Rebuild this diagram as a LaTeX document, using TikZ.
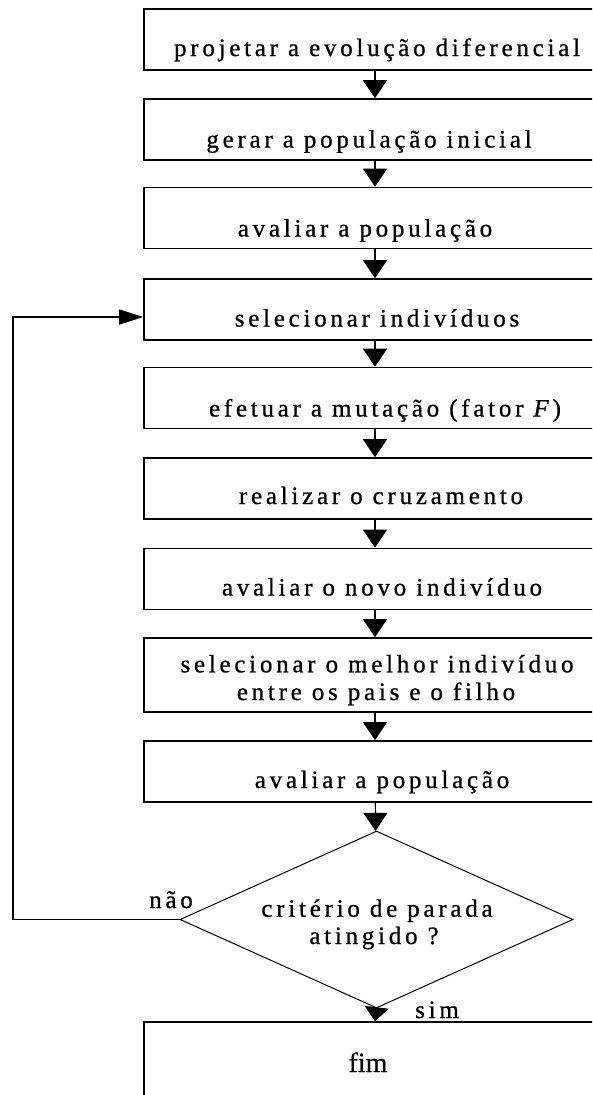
\documentclass[tikz,border=0pt]{standalone}
\usepackage{fontspec}
\setmainfont{Liberation Serif}[FakeBold=0.6]
\newfontfamily\spaced{Liberation Serif}[LetterSpace=15,FakeBold=0.8]
\usetikzlibrary{arrows.meta,shapes.geometric}
\begin{document}
\begin{tikzpicture}[x=1pt,y=-1pt,
  stepbox/.style={draw,line width=1.6pt,minimum width=462pt,minimum height=61pt,inner sep=0pt},
  txt/.style={font=\spaced\fontsize{25}{30}\selectfont,anchor=base,inner sep=0pt},
  flow/.style={line width=1.2pt,-{Triangle[width=24pt,length=18pt]}},
]
\useasboundingbox (0,0) rectangle (592,1095);
\clip (0,0) rectangle (592,1095);

\node[stepbox] (b1) at (375,39.5) {};
\node[stepbox] (b2) at (375,129.5) {};
\node[stepbox] (b3) at (375,218) {};
\node[stepbox] (b4) at (375,309.5) {};
\node[stepbox] (b5) at (375,398) {};
\node[stepbox] (b6) at (375,488.5) {};
\node[stepbox] (b7) at (375,579) {};
\node[stepbox,minimum height=74pt] (b8) at (375,675) {};
\node[stepbox] (b9) at (375,771.5) {};
\node[draw,diamond,line width=1pt,minimum width=393pt,minimum height=177pt,inner sep=0pt] (d) at (376.5,919.5) {};
\node[stepbox,minimum height=120pt] (fim) at (375,1082) {};

\node[txt] (t1) at (377,56) {projetar a evolução diferencial};
\node[txt] (t2) at (369,147.5) {gerar a população inicial};
\node[txt] (t3) at (365,236.5) {avaliar a população};
\node[txt] (t4) at (377,326.5) {selecionar indivíduos};
\node[txt] (t5) at (385,416.5) {efetuar a mutação (fator \textit{F})};
\node[txt] (t6) at (381,504) {realizar o cruzamento};
\node[txt] (t7) at (382,595.5) {avaliar o novo indivíduo};
\node[txt] (t8a) at (377,672.3) {selecionar o melhor indivíduo};
\node[txt] (t8b) at (376,700) {entre os pais e o filho};
\node[txt] (t9) at (382,788) {avaliar a população};
\node[txt] (td1) at (377,916.7) {critério de parada};
\node[txt] (td2) at (374,944) {atingido ?};
\node[font=\fontsize{28}{34}\selectfont,anchor=base,inner sep=0pt] (tf) at (368,1072) {fim};
\node[txt] (nao) at (171,908) {não};
\node[txt] (sim) at (437,1018) {sim};

\draw[flow] (b1) -- (b2);
\draw[flow] (b2) -- (b3);
\draw[flow] (b3) -- (b4);
\draw[flow] (b4) -- (b5);
\draw[flow] (b5) -- (b6);
\draw[flow] (b6) -- (b7);
\draw[flow] (b7) -- (b8);
\draw[flow] (b8) -- (b9);
\draw[flow] (b9) -- (d);
\draw[line width=1.2pt,-{Triangle[width=24pt,length=14pt]}] (d.south) -- (fim.north);

\coordinate (lx) at (13,920);
\coordinate (in) at ([yshift=-7.5pt]b4.west);
\draw[line width=1.2pt,-{Triangle[width=15pt,length=24pt]}] (d.west) -- (d.west -| lx) |- (in);
\end{tikzpicture}
\end{document}
